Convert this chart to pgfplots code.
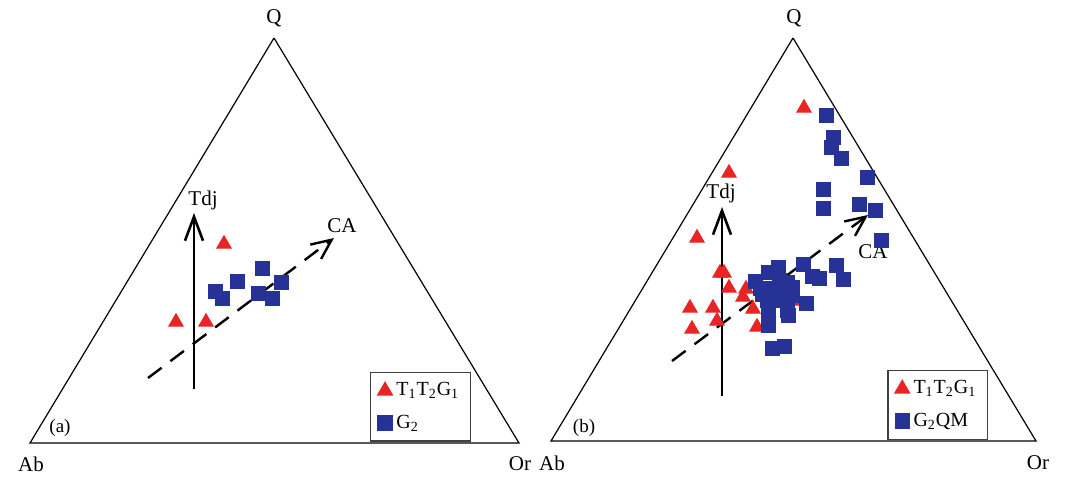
\documentclass[border=0pt]{standalone}
\usepackage{fontspec}
\setmainfont{Liberation Serif}
\usepackage{pgfplots}
\pgfplotsset{compat=1.18}
\usetikzlibrary{arrows.meta}
\definecolor{tri}{RGB}{232,36,36}
\definecolor{sq}{RGB}{38,50,150}
\tikzset{lab/.style={font=\fontsize{10.5}{12}\selectfont}}
\pgfplotsset{
  tern/.style={
    scale only axis, width=268.25pt, height=240pt,
    ymin=0, ymax=480, y dir=reverse, hide axis, clip=false,
    legend cell align=left,
    legend style={draw=black!75, line width=0.6pt, fill=white,
      font=\fontsize{10}{12}\selectfont, row sep=4pt,
      inner xsep=3.5pt, inner ysep=3pt, anchor=north west},
  },
}
\begin{document}
\begin{tikzpicture}
\useasboundingbox (0,0) rectangle (536.5pt,240pt);
% ---------- panel (a)
\begin{axis}[tern, xmin=0, xmax=536.5, at={(0,0)},
  legend style={at={(0.690,0.225)}}]
\addplot[black, line width=0.6pt, forget plot] coordinates {(274,38) (30,443) (519,443) (274,38)};
\addplot[black, line width=1.3pt, -{Straight Barb[length=12pt,width=9pt]}, forget plot] coordinates {(194,389) (194,213)};
\addplot[black, line width=1.2pt, dash pattern=on 8.5pt off 5.5pt, -{Straight Barb[length=10pt,width=9pt]}, forget plot] coordinates {(148,378) (334,238)};
\addplot[only marks, mark=triangle*, mark size=4.2pt, color=tri] coordinates {
(224,244) (176,322) (206,322)};
\addlegendentry{T\textsubscript{1}T\textsubscript{2}G\textsubscript{1}}
\addplot[only marks, mark=square*, mark size=3.5pt, color=sq] coordinates {
(262,268) (237,281) (281,282) (215,291) (222,298) (258,293) (272,298)};
\addlegendentry{G\textsubscript{2}}
\node[lab] at (axis cs:274,18) {Q};
\node[lab] at (axis cs:31,464) {Ab};
\node[lab] at (axis cs:520,464) {Or};
\node[lab] at (axis cs:203,200) {Tdj};
\node[lab] at (axis cs:342,226) {CA};
\node[font=\fontsize{9.5}{11}\selectfont] at (axis cs:60,428) {(a)};
\end{axis}
% ---------- panel (b)
\begin{axis}[tern, xmin=536.5, xmax=1073, at={(268.25pt,0)},
  legend style={at={(0.654,0.229)}}]
\addplot[black, line width=0.6pt, forget plot] coordinates {(793,38) (551,441) (1036,441) (793,38)};
\addplot[black, line width=1.3pt, -{Straight Barb[length=12pt,width=9pt]}, forget plot] coordinates {(722,396) (722,207)};
\addplot[black, line width=1.2pt, dash pattern=on 8.5pt off 5.5pt, -{Straight Barb[length=10pt,width=9pt]}, forget plot] coordinates {(672,361) (868,215)};
\addplot[only marks, mark=triangle*, mark size=4.2pt, color=tri] coordinates {
(804,108) (729,173) (697,238) (720,273) (724,273) (729,288) (746,289) (743,297)
(690,308) (713,308) (753,309) (717,321) (692,329) (757,327) (792,301)};
\addlegendentry{T\textsubscript{1}T\textsubscript{2}G\textsubscript{1}}
\addplot[only marks, mark=square*, mark size=3.5pt, color=sq] coordinates {
(826,115) (833,137) (831,147) (841,158) (867,177) (823,189) (823,208) (859,204)
(875,210) (881,240)
(768,272) (778,267) (803,264) (836,265) (755,281) (787,282) (812,276)
(819,278) (843,279) (760,288) (773,288) (783,292) (792,287) (777,300) (767,300)
(768,313) (787,310) (806,303) (768,325) (772,348) (784,346) (788,315) (762,294)
(779,280) (792,295)};
\addlegendentry{G\textsubscript{2}QM}
\node[lab] at (axis cs:794,18) {Q};
\node[lab] at (axis cs:552,463) {Ab};
\node[lab] at (axis cs:1038,463) {Or};
\node[lab] at (axis cs:721,193) {Tdj};
\node[lab] at (axis cs:873,252) {CA};
\node[font=\fontsize{9.5}{11}\selectfont] at (axis cs:584,428) {(b)};
\end{axis}
\end{tikzpicture}
\end{document}
